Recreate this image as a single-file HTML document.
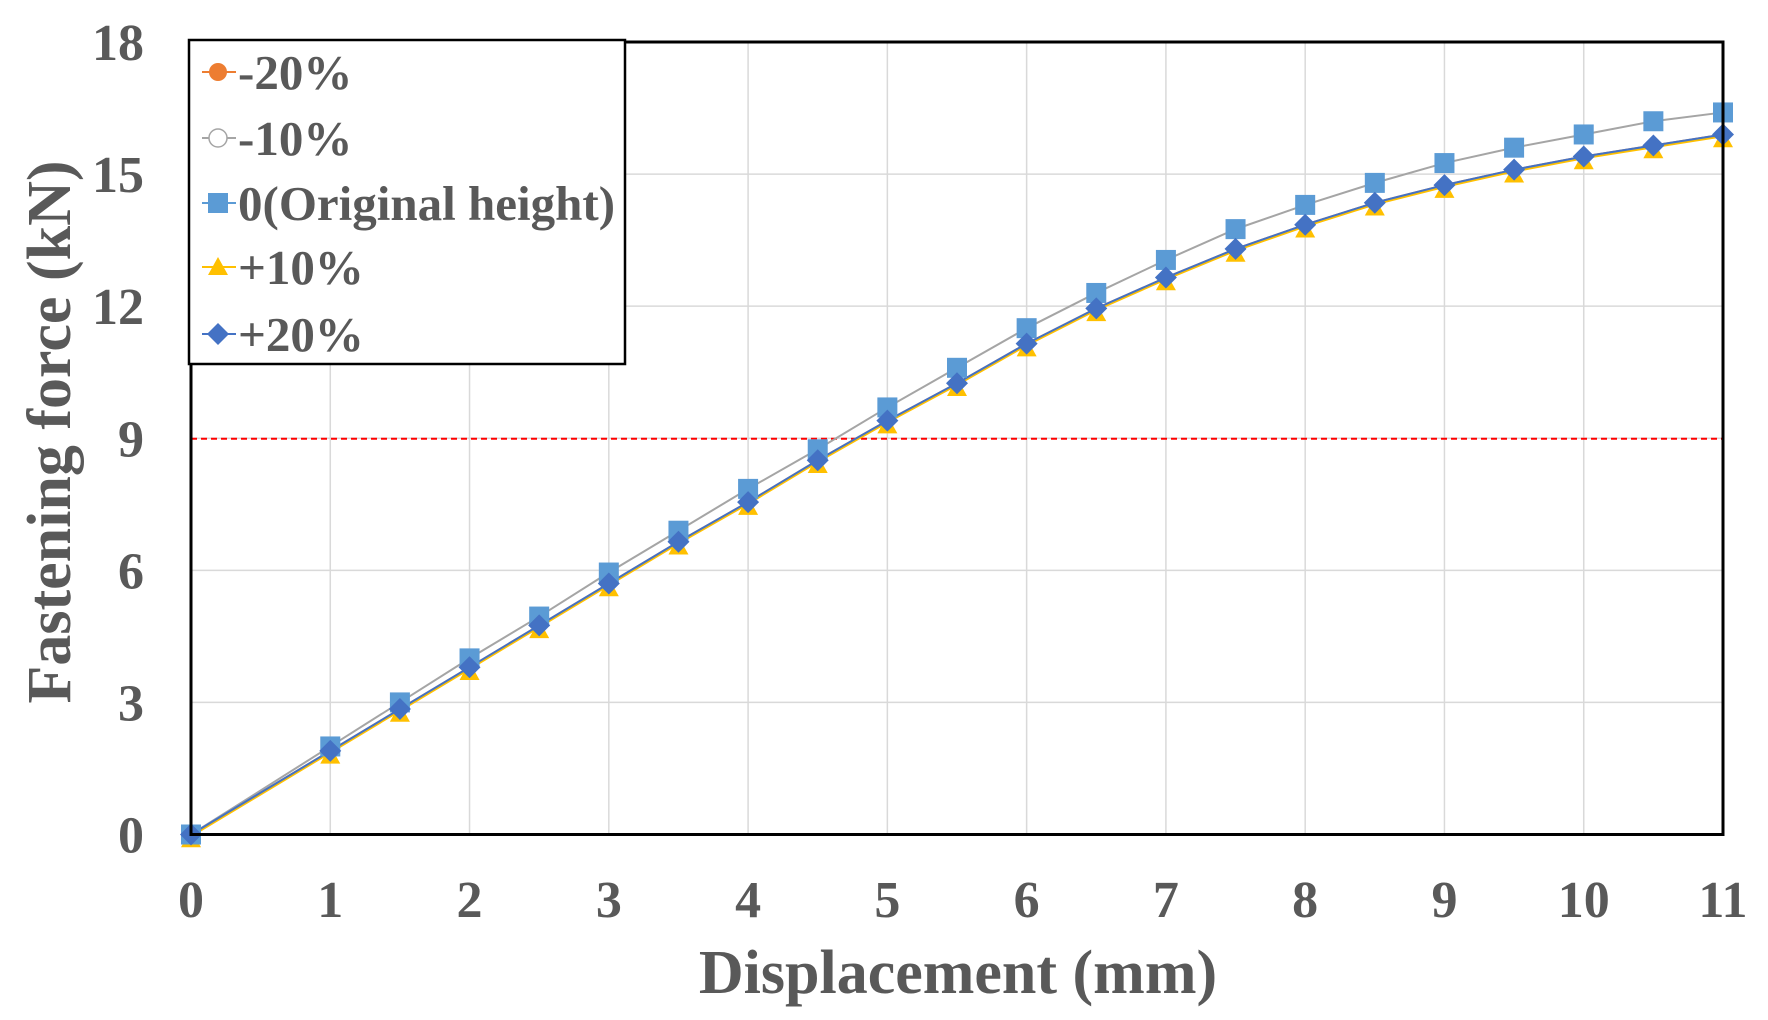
<!DOCTYPE html>
<html><head><meta charset="utf-8"><style>
html,body{margin:0;padding:0;background:#fff;}
svg{display:block;}
text{font-family:"Liberation Serif",serif;font-weight:bold;fill:#595959;}
</style></head><body>
<svg id="s" width="1768" height="1020" xmlns="http://www.w3.org/2000/svg">
<g id="grid" stroke="#d9d9d9" stroke-width="1.5"></g>
<line x1="191" y1="438.8" x2="1723" y2="438.8" stroke="#ff0000" stroke-width="2" stroke-dasharray="6,4"/>
<g id="series"></g>
<rect x="191" y="42" width="1532" height="792.5" fill="none" stroke="#000" stroke-width="3"/>
<g id="labels"></g>
<text x="958" y="993" font-size="62" text-anchor="middle">Displacement (mm)</text>
<text transform="translate(70,432) rotate(-90)" font-size="62" text-anchor="middle">Fastening force (kN)</text>
<rect x="189" y="40" width="436" height="324" fill="#fff" stroke="#000" stroke-width="2.5"/>
<g id="legend"></g>
</svg>
<script>
const L=191,R=1723,T=42,B=834.5,X=v=>L+v*(R-L)/11,Y=v=>B-v*(B-T)/18;
const ns="http://www.w3.org/2000/svg";
function el(p,t,a,txt){const e=document.createElementNS(ns,t);for(const k in a)e.setAttribute(k,a[k]);if(txt!==undefined)e.textContent=txt;document.getElementById(p).appendChild(e);return e;}
for(let i=1;i<11;i++)el("grid","line",{x1:X(i),x2:X(i),y1:T,y2:B});
for(let j=3;j<18;j+=3)el("grid","line",{x1:L,x2:R,y1:Y(j),y2:Y(j)});
for(let i=0;i<=11;i++)el("labels","text",{x:X(i),y:917,"font-size":52,"text-anchor":"middle"},i);
for(let j=0;j<=18;j+=3)el("labels","text",{x:144,y:Y(j)+18,"font-size":52,"text-anchor":"end"},j);
const xs=[0,1,1.5,2,2.5,3,3.5,4,4.5,5,5.5,6,6.5,7,7.5,8,8.5,9,9.5,10,10.5,11];
const sq=[0,2.0,3.0,4.0,4.95,5.95,6.9,7.85,8.75,9.7,10.6,11.5,12.3,13.05,13.75,14.3,14.8,15.25,15.6,15.9,16.2,16.4];
const dm=[0,1.9,2.85,3.8,4.75,5.7,6.65,7.55,8.5,9.4,10.25,11.15,11.95,12.65,13.3,13.85,14.35,14.75,15.1,15.4,15.65,15.9];
const tr=dm.map(v=>v-0.04);
const pts=a=>xs.map((x,i)=>X(x)+","+Y(a[i])).join(" ");
el("series","polyline",{points:pts(dm),fill:"none",stroke:"#ed7d31","stroke-width":2});
el("series","polyline",{points:pts(sq),fill:"none",stroke:"#a5a5a5","stroke-width":2});
el("series","polyline",{points:pts(tr),fill:"none",stroke:"#ffc000","stroke-width":2});
el("series","polyline",{points:pts(dm),fill:"none",stroke:"#4472c4","stroke-width":2});
function tri(x,y,g){el(g,"polygon",{points:`${x},${y-10} ${x-10},${y+8} ${x+10},${y+8}`,fill:"#ffc000"});}
function sqr(x,y,g){el(g,"rect",{x:x-10,y:y-10,width:20,height:20,fill:"#5b9bd5"});}
function dia(x,y,g){el(g,"polygon",{points:`${x},${y-11} ${x+11},${y} ${x},${y+11} ${x-11},${y}`,fill:"#4472c4"});}
xs.forEach((x,i)=>{tri(X(x),Y(tr[i])+3,"series");});
xs.forEach((x,i)=>{sqr(X(x),Y(sq[i]),"series");});
xs.forEach((x,i)=>{dia(X(x),Y(dm[i]),"series");});
const leg=[["-20%","#ed7d31"],["-10%","#a5a5a5"],["0(Original height)","#5b9bd5"],["+10%","#ffc000"],["+20%","#4472c4"]];
const ly=[72,138,203,267,334];
leg.forEach((l,i)=>{const y=ly[i],x=218;
el("legend","line",{x1:202,x2:236,y1:y,y2:y,stroke:l[1],"stroke-width":2});
if(i==0)el("legend","circle",{cx:x,cy:y,r:9,fill:"#ed7d31"});
if(i==1)el("legend","circle",{cx:x,cy:y,r:9,fill:"#fff",stroke:"#a5a5a5","stroke-width":1.5});
if(i==2)sqr(x,y,"legend");if(i==3)tri(x,y,"legend");if(i==4)dia(x,y,"legend");
el("legend","text",{x:238,y:y+17,"font-size":49},l[0]);});
</script>
</body></html>
